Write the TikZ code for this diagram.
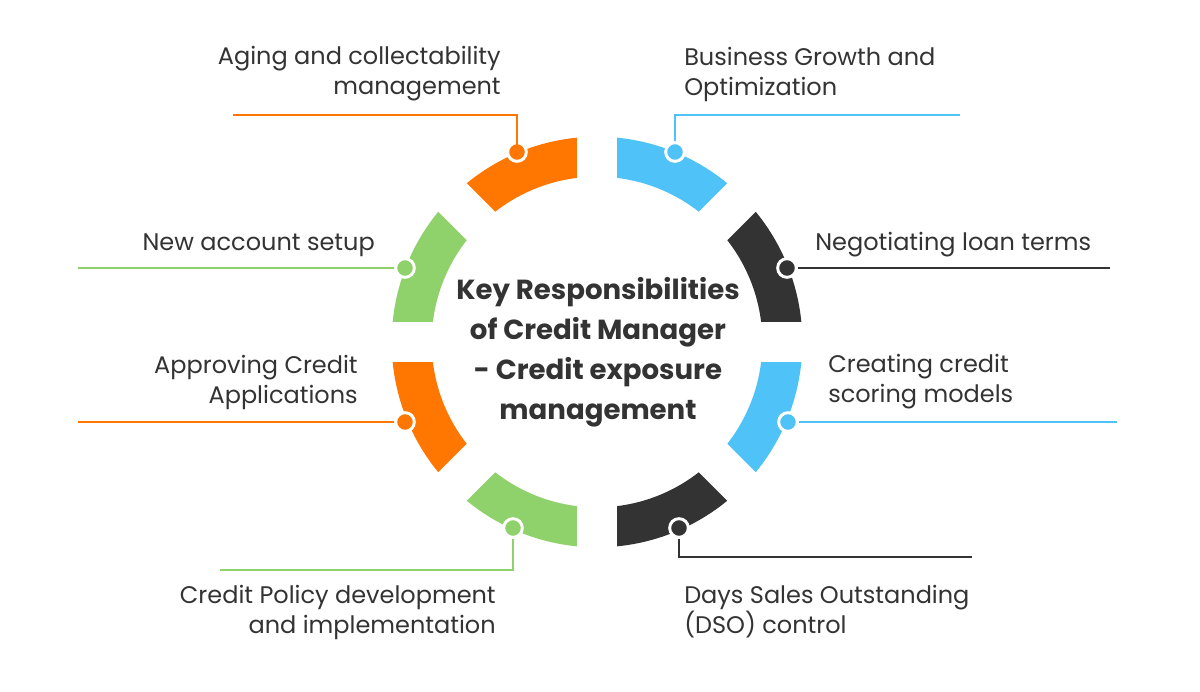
\documentclass[tikz,border=0pt]{standalone}
\usepackage{fontspec}
\setmainfont{Poppins}
\definecolor{cmOrange}{RGB}{255,119,0}
\definecolor{cmBlue}{RGB}{79,195,247}
\definecolor{cmDark}{RGB}{51,51,51}
\definecolor{cmGreen}{RGB}{143,209,106}
\definecolor{cmText}{RGB}{51,51,51}
\tikzset{
  lbl/.style={inner sep=0pt,text=cmText,font=\fontsize{18}{22.5}\selectfont},
  dot/.style={circle,draw=white,fill=#1,line width=2.2pt,minimum size=14pt,inner sep=0pt},
  lead/.style={draw=#1,line width=1.4pt}
}
\begin{document}
\begin{tikzpicture}[x=0.75pt,y=-0.75pt]
\useasboundingbox[fill=white] (0,0) rectangle (1200,692);
%ring segments
\begin{scope}[shift={(597,342)}]
  \foreach \a/\c in {0/cmDark,45/cmBlue,90/cmOrange,135/cmGreen,180/cmOrange,225/cmGreen,270/cmDark,315/cmBlue}
    \fill[\c] (\a:154pt) arc[start angle=\a,end angle=\a+45,radius=154pt]
      -- ({\a+45}:124pt) arc[start angle=\a+45,end angle=\a,radius=124pt] -- cycle;
  \foreach \a in {0,45,90,135}
    \draw[white,line width=30pt] (\a:-165pt) -- (\a:165pt);
\end{scope}
%title
\node[align=center,text=cmText,font=\bfseries\fontsize{20.7}{30}\selectfont] (title) at (598,352) {Key Responsibilities\\of Credit Manager\\- Credit exposure\\management};
%leader ends
\coordinate (c1) at (517,115); \coordinate (e1) at (233,115);
\coordinate (c2) at (675,115); \coordinate (e2) at (960,115);
\coordinate (e3) at (1110,268);
\coordinate (e4) at (1117,422);
\coordinate (c5) at (679,557); \coordinate (e5) at (972,557);
\coordinate (c6) at (513,570); \coordinate (e6) at (220,570);
\coordinate (e7) at (78,422);
\coordinate (e8) at (78,268);
%dots
\node[dot=cmOrange] (d1) at (517,152) {};
\node[dot=cmBlue] (d2) at (675,152) {};
\node[dot=cmDark] (d3) at (787,268) {};
\node[dot=cmBlue] (d4) at (788,422) {};
\node[dot=cmDark] (d5) at (679,528) {};
\node[dot=cmGreen] (d6) at (513,528) {};
\node[dot=cmOrange] (d7) at (405,422) {};
\node[dot=cmGreen] (d8) at (405,268) {};
\draw[lead=cmOrange] (d1.center) ++(0,-7) -- (c1) -- (e1);
\draw[lead=cmBlue] (d2) -- (c2) -- (e2);
\draw[lead=cmDark] (d3) -- (e3);
\draw[lead=cmBlue] (d4) -- (e4);
\draw[lead=cmDark] (d5) -- (c5) -- (e5);
\draw[lead=cmGreen] (d6) -- (c6) -- (e6);
\draw[lead=cmOrange] (d7) -- (e7);
\draw[lead=cmGreen] (d8) -- (e8);
%labels
\node[lbl,align=right,anchor=east] (t1) at (501,74) {Aging and collectability\\management};
\node[lbl,align=left,anchor=west] (t2) at (684,74) {Business Growth and\\Optimization};
\node[lbl,anchor=west] (t3) at (815,245) {Negotiating loan terms};
\node[lbl,align=left,anchor=west] (t4) at (828,382) {Creating credit\\scoring models};
\node[lbl,align=left,anchor=west] (t5) at (684,612) {Days Sales Outstanding\\(DSO) control};
\node[lbl,align=right,anchor=east] (t6) at (496,612) {Credit Policy development\\and implementation};
\node[lbl,align=right,anchor=east] (t7) at (358,382) {Approving Credit\\Applications};
\node[lbl,anchor=east] (t8) at (375,245) {New account setup};
\end{tikzpicture}
\end{document}
